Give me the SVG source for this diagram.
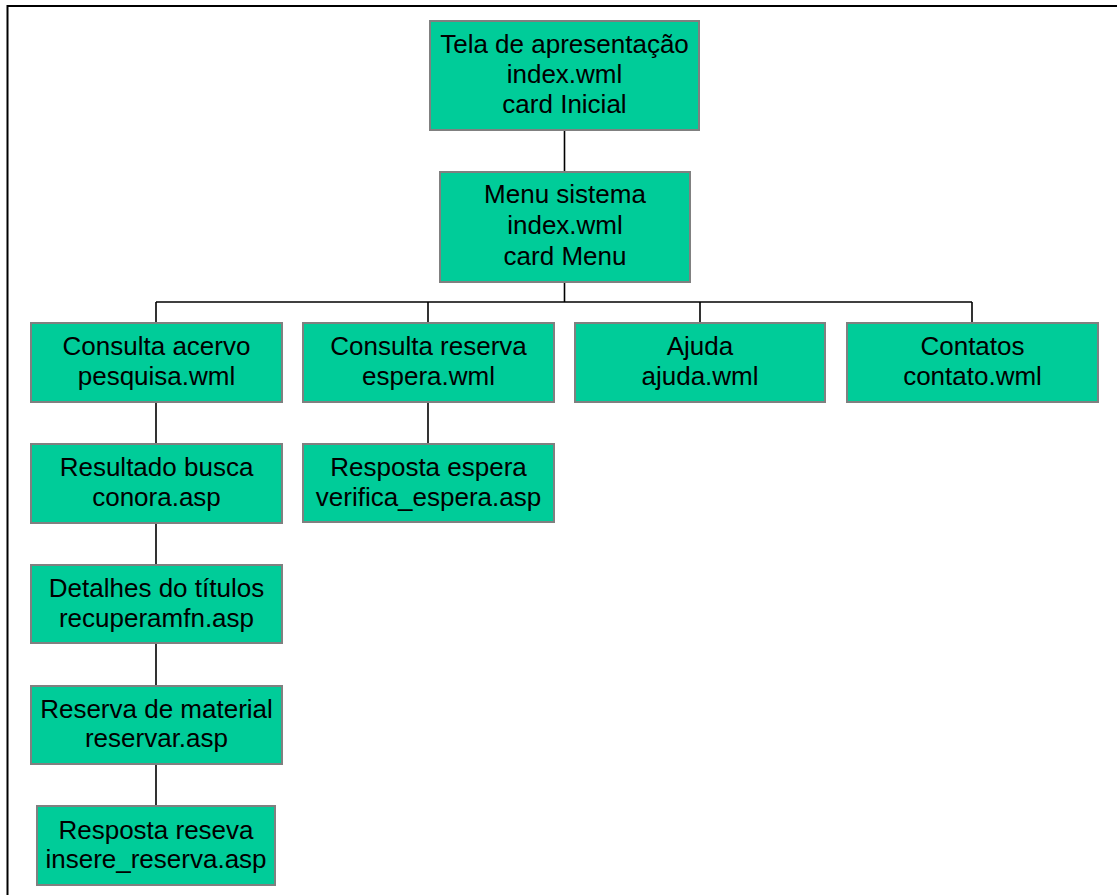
<svg xmlns="http://www.w3.org/2000/svg" width="1117" height="895" viewBox="0 0 1117 895">
<style>
.box{fill:#00CC99;stroke:#808080;stroke-width:2}
.t{font-family:"Liberation Sans",Arial,sans-serif;font-size:26px;fill:#000;text-anchor:middle}
.c{stroke:#000;stroke-width:1.6;fill:none}
.f{stroke:#000;stroke-width:2;fill:none}
</style>
<rect width="1117" height="895" fill="#fff"/>
<path class="f" d="M7.5 895 V6 H1117"/>
<g id="connectors">
<path class="c" d="M564.5 130 V172"/>
<path class="c" d="M564.5 282 V302"/>
<path class="c" d="M156 302 H972"/>
<path class="c" d="M156 302 V323 M428 302 V323 M700 302 V323 M972 302 V323"/>
<path class="c" d="M156 402 V444 M156 523 V565 M156 643 V686 M156 764 V806"/>
<path class="c" d="M428 402 V444"/>
</g>
<g id="n1"><rect class="box" x="430" y="21" width="269" height="109"/>
<text class="t" x="564.5" y="53">Tela de apresentação</text><text class="t" x="564.5" y="83">index.wml</text><text class="t" x="564.5" y="113">card Inicial</text></g>
<g id="n2"><rect class="box" x="440" y="172" width="250" height="110"/>
<text class="t" x="565" y="203">Menu sistema</text><text class="t" x="565" y="234">index.wml</text><text class="t" x="565" y="265">card Menu</text></g>
<g id="n3"><rect class="box" x="31" y="323" width="251" height="79"/>
<text class="t" x="156.5" y="355">Consulta acervo</text><text class="t" x="156.5" y="384.5">pesquisa.wml</text></g>
<g id="n4"><rect class="box" x="303" y="323" width="251" height="79"/>
<text class="t" x="428.5" y="355">Consulta reserva</text><text class="t" x="428.5" y="384.5">espera.wml</text></g>
<g id="n5"><rect class="box" x="575" y="323" width="250" height="79"/>
<text class="t" x="700" y="355">Ajuda</text><text class="t" x="700" y="384.5">ajuda.wml</text></g>
<g id="n6"><rect class="box" x="847" y="323" width="251" height="79"/>
<text class="t" x="972.5" y="355">Contatos</text><text class="t" x="972.5" y="384.5">contato.wml</text></g>
<g id="n7"><rect class="box" x="31" y="444" width="251" height="79"/>
<text class="t" x="156.5" y="476">Resultado busca</text><text class="t" x="156.5" y="505.5">conora.asp</text></g>
<g id="n8"><rect class="box" x="303" y="444" width="251" height="78"/>
<text class="t" x="428.5" y="476">Resposta espera</text><text class="t" x="428.5" y="505.5">verifica_espera.asp</text></g>
<g id="n9"><rect class="box" x="31" y="565" width="251" height="78"/>
<text class="t" x="156.5" y="597">Detalhes do títulos</text><text class="t" x="156.5" y="626.5">recuperamfn.asp</text></g>
<g id="n10"><rect class="box" x="31" y="686" width="251" height="78"/>
<text class="t" x="156.5" y="717.5">Reserva de material</text><text class="t" x="156.5" y="747">reservar.asp</text></g>
<g id="n11"><rect class="box" x="37" y="806" width="238" height="79"/>
<text class="t" x="156" y="838.5">Resposta reseva</text><text class="t" x="156" y="868">insere_reserva.asp</text></g>
</svg>
